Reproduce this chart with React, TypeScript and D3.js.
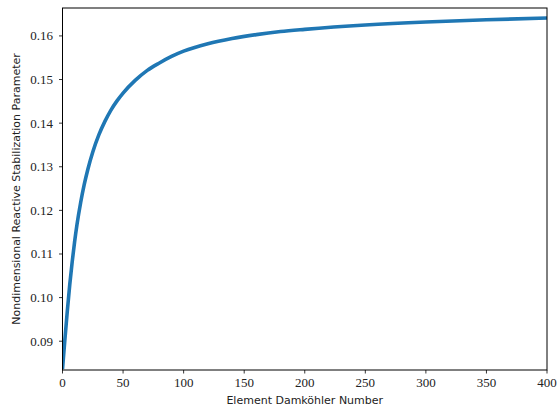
import React from "react";
import * as d3 from "d3";

const damkohler = [0, 2, 4, 6, 8, 10, 12, 15, 18, 21, 25, 30, 35, 40, 45, 50, 60, 70, 80, 90, 100, 120, 140, 160, 180, 200, 250, 300, 350, 400];
const tauValues = [0.0836, 0.0905, 0.097, 0.103, 0.1082, 0.1128, 0.1168, 0.1218, 0.126, 0.1295, 0.1334, 0.1373, 0.1404, 0.143, 0.1451, 0.1469, 0.1498, 0.1521, 0.1538, 0.1553, 0.1565, 0.1582, 0.1594, 0.1603, 0.161, 0.1615, 0.1625, 0.1632, 0.1637, 0.1641];
const xTicks = [0, 50, 100, 150, 200, 250, 300, 350, 400];
const yTicks = [0.09, 0.1, 0.11, 0.12, 0.13, 0.14, 0.15, 0.16];
const xLabel = "Element Damköhler Number";
const yLabel = "Nondimensional Reactive Stabilization Parameter";

const W = 557, H = 413;
const L = 62.5, R = 547, T = 8, B = 370;

export default function App() {
  const x = d3.scaleLinear().domain([0, 400]).range([L, R]);
  const y = d3.scaleLinear().domain([0.0834, 0.1664]).range([B, T]);
  const pts: [number, number][] = damkohler.map((d, i) => [d, tauValues[i]]);
  const line = d3.line<[number, number]>().x(d => x(d[0])).y(d => y(d[1])).curve(d3.curveMonotoneX);
  const serif = "'Liberation Serif', 'DejaVu Serif', serif";
  const sans = "'DejaVu Sans', sans-serif";
  return (
    <svg width={W} height={H} style={{ position: "absolute", left: 0, top: 0, background: "#fff" }}>
      <defs>
        <clipPath id="plotclip"><rect x={L} y={T} width={R - L} height={B - T} /></clipPath>
      </defs>
      <rect x={0} y={0} width={W} height={H} fill="#fff" />
      <path d={line(pts) || ""} fill="none" stroke="#1f77b4" strokeWidth={3.6} clipPath="url(#plotclip)" strokeLinecap="butt" />
      <rect x={L} y={T} width={R - L} height={B - T} fill="none" stroke="#000" strokeWidth={1} />
      {xTicks.map(t => (
        <g key={"x" + t}>
          <line x1={x(t)} x2={x(t)} y1={B} y2={B + 3.5} stroke="#000" strokeWidth={0.8} />
          <text x={x(t)} y={387} textAnchor="middle" fontFamily={serif} fontSize={13} fill="#222">{t}</text>
        </g>
      ))}
      {yTicks.map(t => (
        <g key={"y" + t}>
          <line x1={L - 3.5} x2={L} y1={y(t)} y2={y(t)} stroke="#000" strokeWidth={0.8} />
          <text x={53} y={y(t) + 4.5} textAnchor="end" fontFamily={serif} fontSize={13} fill="#222">{t.toFixed(2)}</text>
        </g>
      ))}
      <text x={(L + R) / 2} y={404} textAnchor="middle" fontFamily={sans} fontSize={11} fill="#222">{xLabel}</text>
      <text transform={`translate(20, ${(T + B) / 2}) rotate(-90)`} textAnchor="middle" fontFamily={sans} fontSize={11} fill="#222">{yLabel}</text>
    </svg>
  );
}
